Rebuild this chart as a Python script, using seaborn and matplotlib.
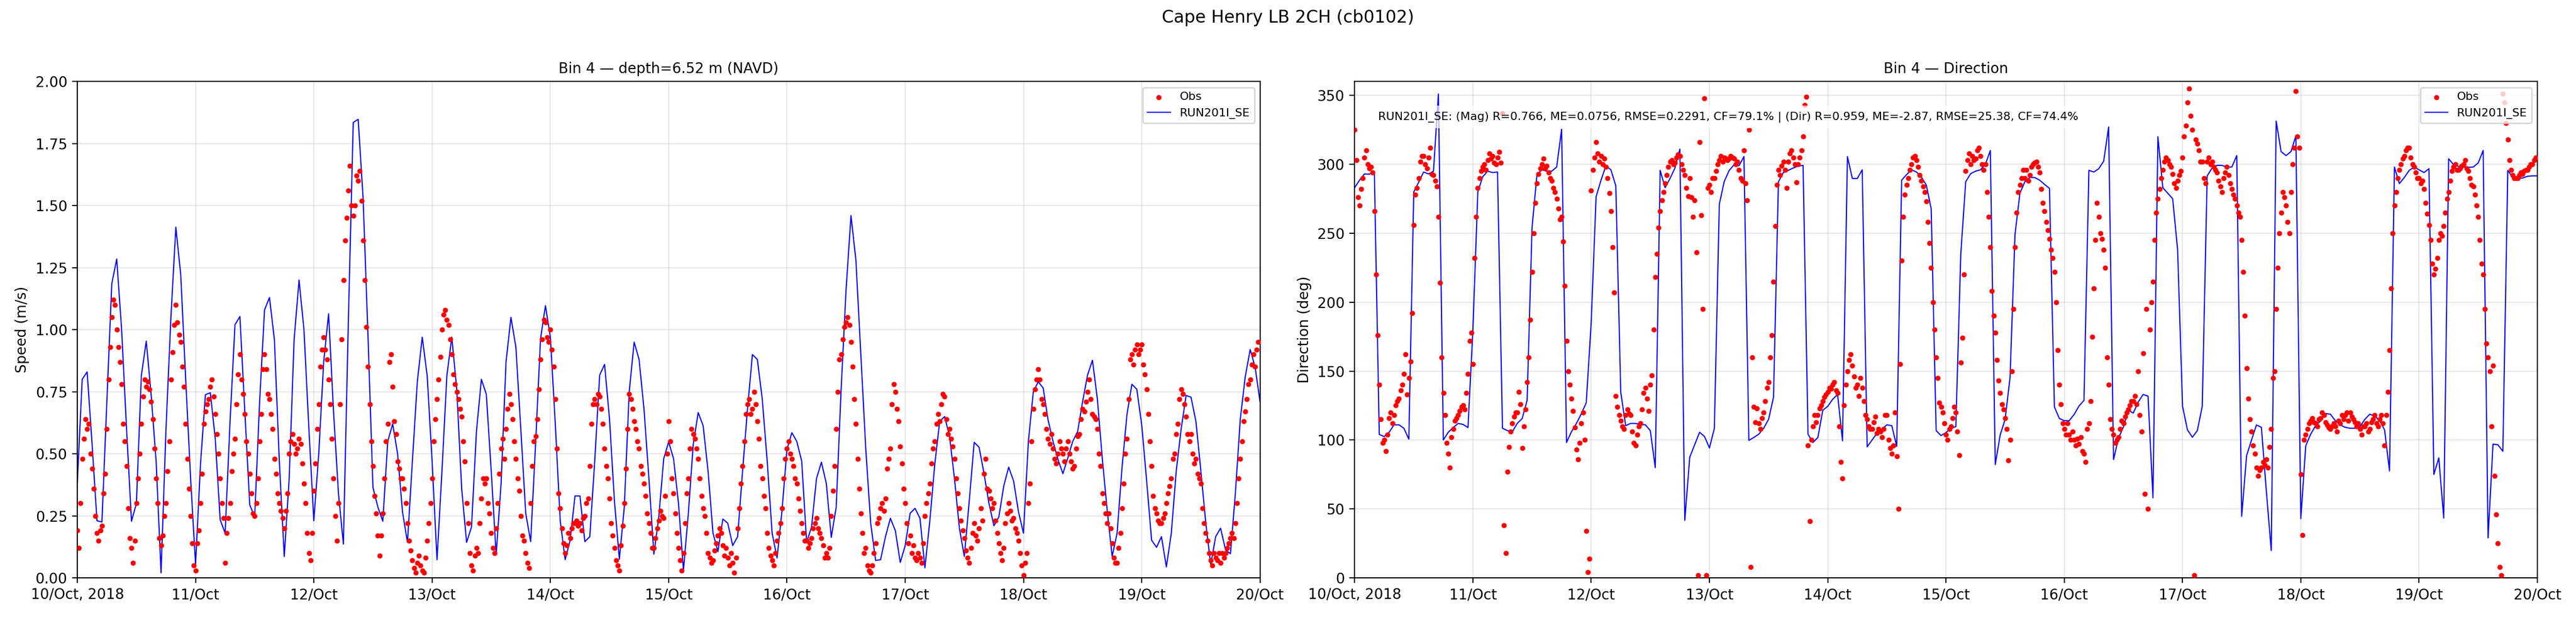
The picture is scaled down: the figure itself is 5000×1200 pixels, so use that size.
import seaborn as sns
import matplotlib
matplotlib.use('Agg')
import matplotlib.pyplot as plt
import matplotlib.dates as mdates
from matplotlib.ticker import FuncFormatter
import pandas as pd

# model output, hourly from 10 Oct 2018 00:00 to 20 Oct 00:00
model_speed = [
    0.38, 0.80, 0.83, 0.54, 0.23, 0.225, 0.71, 1.185, 1.285, 1.00, 0.60, 0.228,
    0.30, 0.815, 0.954, 0.735, 0.47, 0.02, 0.60, 1.05, 1.413, 1.22, 0.80, 0.40,
    0.053, 0.457, 0.738, 0.746, 0.56, 0.234, 0.18, 0.63, 1.02, 1.053, 0.67, 0.294,
    0.245, 0.71, 1.08, 1.13, 0.96, 0.47, 0.086, 0.40, 0.96, 1.20, 1.00, 0.60,
    0.23, 0.50, 0.87, 1.064, 0.67, 0.34, 0.136, 1.03, 1.835, 1.848, 1.53, 0.97,
    0.364, 0.285, 0.228, 0.55, 0.62, 0.50, 0.265, 0.143, 0.47, 0.79, 0.97, 0.815,
    0.47, 0.073, 0.43, 0.815, 0.97, 0.76, 0.36, 0.143, 0.205, 0.59, 0.80, 0.74,
    0.43, 0.093, 0.38, 0.87, 1.05, 0.93, 0.60, 0.26, 0.146, 0.54, 0.963, 1.097,
    0.97, 0.62, 0.23, 0.073, 0.15, 0.33, 0.33, 0.146, 0.166, 0.47, 0.817, 0.86,
    0.64, 0.31, 0.075, 0.285, 0.75, 0.95, 0.88, 0.68, 0.40, 0.095, 0.245, 0.48,
    0.548, 0.48, 0.30, 0.03, 0.26, 0.54, 0.666, 0.613, 0.43, 0.18, 0.106, 0.237,
    0.22, 0.13, 0.166, 0.43, 0.68, 0.90, 0.88, 0.72, 0.47, 0.18, 0.08, 0.27,
    0.516, 0.585, 0.55, 0.47, 0.143, 0.205, 0.40, 0.466, 0.38, 0.163, 0.285, 0.76,
    1.16, 1.46, 1.28, 0.90, 0.52, 0.22, 0.07, 0.073, 0.166, 0.24, 0.19, 0.062,
    0.13, 0.26, 0.28, 0.24, 0.04, 0.23, 0.457, 0.63, 0.65, 0.57, 0.40, 0.20,
    0.086, 0.31, 0.546, 0.526, 0.42, 0.30, 0.21, 0.245, 0.37, 0.446, 0.39, 0.265,
    0.18, 0.55, 0.75, 0.79, 0.765, 0.636, 0.55, 0.477, 0.42, 0.483, 0.55, 0.59,
    0.71, 0.817, 0.877, 0.72, 0.48, 0.27, 0.086, 0.18, 0.444, 0.658, 0.78, 0.76,
    0.616, 0.39, 0.152, 0.123, 0.166, 0.044, 0.18, 0.43, 0.60, 0.735, 0.728, 0.63,
    0.43, 0.22, 0.053, 0.166, 0.20, 0.113, 0.097, 0.34, 0.64, 0.81, 0.92, 0.85,
    0.71,
]

model_dir = [
    283, 288.5, 293, 292.8, 295, 104, 102.5, 105.6, 111, 111, 108.5, 100.6,
    280, 287, 294.4, 293, 295, 351, 100, 105.6, 109, 112, 111.3, 109,
    180, 280, 291, 295, 294, 294.4, 108.5, 106.8, 106, 112, 115.6, 128.7,
    254, 292.5, 296, 295, 295, 298, 325.4, 98.2, 106, 112, 119, 127,
    184.8, 276.5, 288.5, 299, 296, 284.4, 134.7, 110.4, 112, 112, 111.3, 111,
    106.8, 80, 295.6, 283, 289.7, 297.3, 311, 41.7, 87.5, 96.5, 105.6, 102.5,
    94.2, 108.5, 271, 287.5, 295.5, 299.7, 299, 305.6, 99.7, 101.8, 104.2, 108.5,
    115, 131, 287.3, 294, 295.6, 297.3, 298.7, 299.2, 104.2, 98.2, 101.8, 121.6,
    124.4, 129.5, 133, 99.4, 305.6, 289.7, 289.7, 296, 95, 100, 104.9, 107.8,
    111, 110.4, 95.4, 288.5, 292.5, 296, 294.4, 290.8, 285, 267.7, 106.8, 103.2,
    105.4, 108.5, 109.7, 234.8, 287.3, 293.2, 295, 296, 300, 310, 82.2, 103.7,
    115, 145.4, 249, 279, 287.3, 290.4, 290.4, 288.5, 285.4, 282.5, 124, 115.6,
    114, 114, 118.5, 124.7, 128.7, 295.6, 294.4, 296.8, 302.3, 327, 85.8, 101.3,
    109.5, 121.6, 119.5, 127.5, 133, 131.8, 58, 320, 283, 279, 275, 238,
    124.4, 107.3, 102, 106.8, 124.4, 291.6, 297.3, 299.2, 299.2, 298, 298, 306.3,
    44.6, 88.7, 100, 110.9, 109.2, 63.2, 19.8, 331.4, 309.2, 306.3, 309.2, 320.6,
    42.9, 95.8, 104.2, 110.4, 113.7, 119.2, 118.7, 114, 110.9, 109.2, 108.5, 108.5,
    109.7, 115, 118.7, 117.3, 114, 107.3, 77.5, 298, 286, 290.4, 295.6, 298,
    296, 294, 296.8, 75, 87, 43.4, 304, 299.7, 298.5, 298, 297.8, 298,
    301, 310, 29, 97, 96.5, 91.8, 295.6, 290.4, 289.7, 290, 291.3, 291.6,
    291.6,
]

# ADCP observations, every 20 min (3 per hour)
obs_speed = [
    0.19, 0.12, 0.30, 0.48, 0.56, 0.64, 0.60, 0.62, 0.50, 0.44, 0.36, 0.25,
    0.18, 0.15, 0.19, 0.21, 0.34, 0.42, 0.60, 0.80, 0.93, 1.05, 1.12, 1.10,
    1.00, 0.93, 0.87, 0.78, 0.62, 0.55, 0.45, 0.28, 0.16, 0.12, 0.06, 0.15,
    0.30, 0.40, 0.50, 0.62, 0.73, 0.80, 0.77, 0.79, 0.76, 0.71, 0.64, 0.52,
    0.40, 0.30, 0.16, 0.13, 0.17, 0.25, 0.30, 0.43, 0.55, 0.80, 0.91, 1.02,
    1.10, 1.03, 0.98, 0.95, 0.85, 0.77, 0.62, 0.48, 0.36, 0.25, 0.14, 0.05,
    0.03, 0.14, 0.19, 0.30, 0.42, 0.62, 0.67, 0.70, 0.72, 0.77, 0.80, 0.73,
    0.66, 0.58, 0.50, 0.40, 0.30, 0.24, 0.06, 0.18, 0.24, 0.30, 0.43, 0.50,
    0.56, 0.70, 0.82, 0.90, 0.80, 0.74, 0.66, 0.55, 0.50, 0.42, 0.34, 0.26,
    0.25, 0.30, 0.40, 0.55, 0.66, 0.84, 0.90, 0.84, 0.74, 0.72, 0.66, 0.60,
    0.48, 0.42, 0.34, 0.30, 0.27, 0.24, 0.20, 0.27, 0.34, 0.50, 0.55, 0.58,
    0.54, 0.50, 0.52, 0.56, 0.54, 0.46, 0.38, 0.30, 0.18, 0.10, 0.07, 0.18,
    0.35, 0.46, 0.60, 0.70, 0.85, 0.92, 0.97, 0.92, 0.88, 0.80, 0.70, 0.56,
    0.40, 0.25, 0.15, 0.30, 0.70, 0.96, 1.20, 1.36, 1.45, 1.56, 1.66, 1.50,
    1.46, 1.50, 1.62, 1.60, 1.64, 1.52, 1.36, 1.20, 1.01, 0.85, 0.70, 0.55,
    0.45, 0.33, 0.26, 0.17, 0.09, 0.17, 0.26, 0.40, 0.55, 0.62, 0.87, 0.90,
    0.77, 0.63, 0.58, 0.47, 0.44, 0.40, 0.40, 0.36, 0.30, 0.22, 0.15, 0.11,
    0.07, 0.04, 0.02, 0.06, 0.09, 0.05, 0.03, 0.02, 0.08, 0.15, 0.22, 0.30,
    0.40, 0.55, 0.64, 0.72, 0.80, 0.89, 1.00, 1.06, 1.08, 1.04, 1.02, 0.96,
    0.90, 0.82, 0.78, 0.75, 0.72, 0.68, 0.65, 0.55, 0.47, 0.30, 0.22, 0.10,
    0.05, 0.03, 0.09, 0.12, 0.10, 0.22, 0.32, 0.40, 0.38, 0.40, 0.30, 0.26,
    0.18, 0.12, 0.10, 0.20, 0.30, 0.42, 0.52, 0.56, 0.48, 0.60, 0.68, 0.74,
    0.70, 0.64, 0.55, 0.48, 0.40, 0.35, 0.25, 0.17, 0.15, 0.10, 0.06, 0.04,
    0.30, 0.45, 0.55, 0.57, 0.64, 0.76, 0.88, 0.96, 1.04, 1.03, 0.97, 0.95,
    1.00, 0.92, 0.85, 0.72, 0.52, 0.34, 0.28, 0.20, 0.14, 0.10, 0.13, 0.18,
    0.16, 0.20, 0.22, 0.22, 0.23, 0.21, 0.22, 0.19, 0.24, 0.25, 0.30, 0.32,
    0.45, 0.62, 0.70, 0.72, 0.70, 0.74, 0.73, 0.68, 0.62, 0.52, 0.45, 0.40,
    0.32, 0.22, 0.17, 0.12, 0.07, 0.05, 0.03, 0.13, 0.21, 0.30, 0.44, 0.60,
    0.74, 0.72, 0.68, 0.63, 0.60, 0.55, 0.52, 0.45, 0.42, 0.38, 0.33, 0.26,
    0.22, 0.18, 0.12, 0.12, 0.16, 0.20, 0.23, 0.27, 0.25, 0.24, 0.33, 0.50,
    0.63, 0.55, 0.40, 0.34, 0.26, 0.18, 0.12, 0.07, 0.03, 0.10, 0.22, 0.34,
    0.40, 0.52, 0.60, 0.58, 0.56, 0.52, 0.48, 0.40, 0.33, 0.28, 0.25, 0.18,
    0.10, 0.08, 0.06, 0.07, 0.11, 0.14, 0.17, 0.20, 0.18, 0.13, 0.09, 0.12,
    0.08, 0.05, 0.10, 0.06, 0.02, 0.08, 0.20, 0.28, 0.38, 0.45, 0.55, 0.66,
    0.70, 0.72, 0.66, 0.68, 0.75, 0.70, 0.63, 0.56, 0.45, 0.40, 0.33, 0.28,
    0.18, 0.12, 0.09, 0.07, 0.05, 0.10, 0.15, 0.18, 0.22, 0.28, 0.40, 0.48,
    0.52, 0.55, 0.50, 0.48, 0.45, 0.40, 0.38, 0.32, 0.27, 0.22, 0.18, 0.15,
    0.15, 0.12, 0.14, 0.16, 0.20, 0.22, 0.24, 0.20, 0.18, 0.16, 0.13, 0.08,
    0.10, 0.08, 0.12, 0.25, 0.35, 0.45, 0.60, 0.75, 0.88, 0.90, 0.96, 1.01,
    1.03, 1.05, 1.02, 0.95, 0.85, 0.72, 0.62, 0.48, 0.36, 0.26, 0.18, 0.10,
    0.12, 0.05, 0.03, 0.02, 0.05, 0.10, 0.14, 0.22, 0.24, 0.28, 0.30, 0.27,
    0.32, 0.44, 0.48, 0.52, 0.70, 0.78, 0.75, 0.68, 0.63, 0.53, 0.46, 0.36,
    0.30, 0.22, 0.14, 0.17, 0.10, 0.13, 0.08, 0.07, 0.10, 0.08, 0.06, 0.14,
    0.25, 0.30, 0.34, 0.38, 0.46, 0.52, 0.55, 0.62, 0.66, 0.63, 0.70, 0.74,
    0.73, 0.64, 0.58, 0.60, 0.56, 0.53, 0.48, 0.40, 0.34, 0.28, 0.23, 0.19,
    0.16, 0.11, 0.08, 0.06, 0.12, 0.18, 0.22, 0.17, 0.15, 0.20, 0.28, 0.23,
    0.42, 0.48, 0.36, 0.35, 0.32, 0.28, 0.30, 0.23, 0.18, 0.14, 0.10, 0.07,
    0.12, 0.22, 0.26, 0.30, 0.27, 0.23, 0.24, 0.20, 0.18, 0.15, 0.10, 0.05,
    0.01, 0.06, 0.10, 0.30, 0.38, 0.55, 0.68, 0.76, 0.80, 0.84, 0.80, 0.72,
    0.70, 0.66, 0.60, 0.56, 0.54, 0.58, 0.52, 0.48, 0.46, 0.50, 0.55, 0.52,
    0.50, 0.47, 0.52, 0.55, 0.50, 0.47, 0.44, 0.45, 0.52, 0.57, 0.58, 0.64,
    0.68, 0.67, 0.71, 0.75, 0.80, 0.72, 0.66, 0.65, 0.64, 0.60, 0.50, 0.45,
    0.34, 0.30, 0.26, 0.22, 0.26, 0.20, 0.14, 0.08, 0.06, 0.06, 0.12, 0.18,
    0.28, 0.38, 0.50, 0.56, 0.72, 0.88, 0.90, 0.86, 0.92, 0.94, 0.90, 0.92,
    0.94, 0.86, 0.82, 0.76, 0.66, 0.55, 0.45, 0.33, 0.28, 0.26, 0.23, 0.22,
    0.22, 0.24, 0.26, 0.30, 0.34, 0.37, 0.40, 0.48, 0.50, 0.58, 0.62, 0.72,
    0.76, 0.74, 0.70, 0.65, 0.58, 0.55, 0.58, 0.50, 0.46, 0.48, 0.42, 0.40,
    0.38, 0.28, 0.22, 0.18, 0.15, 0.10, 0.07, 0.05, 0.10, 0.08, 0.07, 0.10,
    0.06, 0.10, 0.08, 0.10, 0.12, 0.14, 0.16, 0.18, 0.16, 0.22, 0.30, 0.40,
    0.48, 0.55, 0.63, 0.67, 0.72, 0.78, 0.80, 0.86, 0.90, 0.85, 0.92, 0.95,
]

obs_dir = [
    325, 303, 276, 270, 282, 290, 305, 310, 300, 297, 298, 294,
    266, 220, 176, 140, 115, 98, 100, 92, 104, 116, 120, 112,
    118, 125, 128, 130, 136, 140, 148, 162, 133, 145, 157, 192,
    256, 278, 283, 290, 302, 306, 306, 300, 297, 305, 312, 293,
    292, 288, 284, 262, 214, 160, 134, 118, 98, 90, 80, 102,
    108, 114, 116, 118, 121, 124, 125, 122, 134, 148, 172, 178,
    155, 232, 262, 283, 290, 295, 298, 300, 296, 303, 308, 304,
    306, 301, 300, 305, 309, 301, 337, 38, 18, 77, 95, 106,
    112, 117, 120, 120, 135, 126, 94, 110, 122, 142, 160, 187,
    222, 250, 272, 286, 293, 297, 300, 304, 297, 299, 294, 290,
    288, 283, 280, 275, 268, 260, 262, 244, 212, 172, 150, 140,
    130, 121, 109, 93, 86, 98, 112, 120, 100, 34, 4, 14,
    281, 296, 305, 316, 308, 302, 306, 300, 304, 298, 290, 279,
    266, 240, 207, 132, 124, 118, 114, 110, 108, 118, 122, 119,
    118, 106, 98, 96, 104, 110, 112, 122, 134, 138, 130, 121,
    140, 147, 180, 218, 235, 254, 266, 274, 280, 286, 292, 298,
    302, 303, 300, 301, 305, 307, 306, 300, 296, 292, 283, 277,
    290, 276, 262, 274, 236, 2, 316, 263, 195, 348, 2, 283,
    285, 280, 290, 290, 295, 300, 303, 306, 302, 305, 304, 303,
    304, 306, 305, 304, 300, 302, 296, 290, 288, 310, 286, 274,
    325, 8, 160, 124, 113, 123, 112, 108, 116, 120, 128, 138,
    142, 160, 176, 215, 255, 285, 296, 292, 299, 302, 296, 283,
    302, 308, 310, 305, 300, 287, 300, 305, 310, 320, 343, 349,
    96, 41, 100, 110, 118, 113, 118, 123, 125, 128, 131, 133,
    135, 138, 137, 140, 142, 136, 134, 110, 84, 72, 125, 140,
    150, 158, 162, 154, 146, 138, 140, 132, 145, 138, 128, 118,
    115, 110, 108, 108, 113, 117, 105, 108, 106, 102, 108, 118,
    118, 100, 94, 90, 96, 120, 88, 50, 155, 230, 262, 278,
    285, 290, 296, 300, 305, 306, 303, 298, 292, 288, 284, 280,
    273, 258, 243, 225, 200, 180, 160, 145, 127, 124, 120, 112,
    104, 100, 108, 110, 116, 124, 120, 106, 89, 156, 174, 220,
    295, 303, 308, 300, 306, 303, 304, 310, 312, 306, 300, 296,
    300, 280, 262, 240, 208, 190, 178, 158, 143, 134, 126, 122,
    116, 108, 85, 100, 150, 195, 240, 265, 280, 285, 290, 296,
    290, 296, 288, 292, 298, 300, 301, 302, 298, 294, 282, 272,
    266, 258, 252, 246, 238, 232, 222, 200, 165, 140, 126, 112,
    108, 104, 112, 104, 100, 106, 100, 96, 101, 97, 102, 92,
    90, 84, 108, 112, 128, 175, 210, 245, 272, 262, 250, 246,
    238, 225, 160, 140, 115, 108, 104, 98, 100, 102, 108, 114,
    112, 117, 120, 122, 125, 128, 128, 132, 126, 150, 118, 106,
    163, 61, 195, 50, 180, 200, 215, 245, 265, 275, 282, 290,
    296, 302, 305, 303, 300, 298, 293, 286, 283, 288, 292, 295,
    305, 320, 328, 345, 355, 335, 325, 2, 318, 315, 310, 302,
    302, 290, 286, 302, 305, 300, 302, 298, 296, 294, 288, 284,
    280, 290, 294, 298, 292, 286, 282, 278, 275, 270, 265, 262,
    245, 222, 190, 152, 130, 115, 106, 96, 90, 80, 74, 78,
    80, 84, 82, 86, 80, 95, 108, 145, 150, 195, 225, 250,
    265, 280, 276, 270, 258, 250, 280, 300, 312, 353, 320, 312,
    75, 31, 100, 104, 108, 112, 114, 116, 113, 112, 110, 115,
    116, 120, 118, 113, 111, 109, 108, 110, 112, 110, 106, 114,
    112, 118, 115, 118, 120, 114, 120, 117, 115, 113, 110, 112,
    108, 104, 110, 110, 112, 106, 108, 113, 115, 118, 112, 110,
    115, 118, 112, 96, 118, 135, 165, 210, 250, 270, 280, 290,
    296, 300, 304, 306, 310, 312, 312, 305, 300, 298, 294, 290,
    290, 286, 288, 282, 272, 264, 256, 245, 228, 220, 224, 232,
    245, 250, 248, 255, 265, 275, 280, 288, 295, 298, 300, 296,
    296, 297, 299, 300, 303, 297, 295, 290, 285, 284, 278, 270,
    262, 245, 228, 220, 195, 170, 160, 150, 110, 154, 74, 46,
    25, 8, 2, 351, 345, 330, 318, 303, 296, 292, 290, 290,
    290, 292, 294, 293, 295, 296, 296, 298, 300, 300, 303, 305,
]

stats_text = ("RUN201I_SE: (Mag) R=0.766, ME=0.0756, RMSE=0.2291, CF=79.1% | "
              "(Dir) R=0.959, ME=-2.87, RMSE=25.38, CF=74.4%")

t_model = pd.date_range('2018-10-10 00:00', periods=len(model_speed), freq='h')
t_obs = pd.date_range('2018-10-10 00:00', periods=len(obs_speed), freq='20min')

df_model = pd.DataFrame({'time': t_model, 'speed': model_speed, 'dir': model_dir})
df_obs = pd.DataFrame({'time': t_obs, 'speed': obs_speed, 'dir': obs_dir})


def day_fmt(x, pos):
    d = mdates.num2date(x)
    if pos == 0:
        return d.strftime('%d/%b, %Y')
    return d.strftime('%d/%b')


fig, axes = plt.subplots(1, 2, figsize=(25, 6), dpi=200)
plt.subplots_adjust(left=0.03, right=0.985, bottom=0.065, top=0.868, wspace=0.08)

for ax, col in zip(axes, ['speed', 'dir']):
    sns.scatterplot(data=df_obs, x='time', y=col, ax=ax, color='red', s=13,
                    linewidth=0, label='Obs', zorder=3)
    sns.lineplot(data=df_model, x='time', y=col, ax=ax, color='blue', lw=0.8,
                 label='RUN201I_SE', zorder=2)
    ax.set_xlim(pd.Timestamp('2018-10-10'), pd.Timestamp('2018-10-20'))
    ax.xaxis.set_major_locator(mdates.DayLocator())
    ax.xaxis.set_major_formatter(FuncFormatter(day_fmt))
    ax.set_xlabel('')
    ax.grid(True, alpha=0.3)
    ax.legend(loc='upper right', fontsize=8)

axes[0].set_ylim(0, 2)
axes[0].set_yticks([0, 0.25, 0.5, 0.75, 1.0, 1.25, 1.5, 1.75, 2.0])
axes[0].yaxis.set_major_formatter(FuncFormatter(lambda v, p: f'{v:.2f}'))
axes[0].set_ylabel('Speed (m/s)')
axes[0].set_title('Bin 4 \u2014 depth=6.52 m (NAVD)', fontsize=10)

axes[1].set_ylim(0, 360)
axes[1].set_yticks(range(0, 351, 50))
axes[1].set_ylabel('Direction (deg)')
axes[1].set_title('Bin 4 \u2014 Direction', fontsize=10)
axes[1].text(0.02, 0.94, stats_text, transform=axes[1].transAxes, fontsize=8,
             va='top', zorder=5,
             bbox=dict(facecolor='white', alpha=0.7, edgecolor='none'))

fig.suptitle('Cape Henry LB 2CH (cb0102)', fontsize=12, y=0.985)
plt.savefig('out.png', dpi=200)
